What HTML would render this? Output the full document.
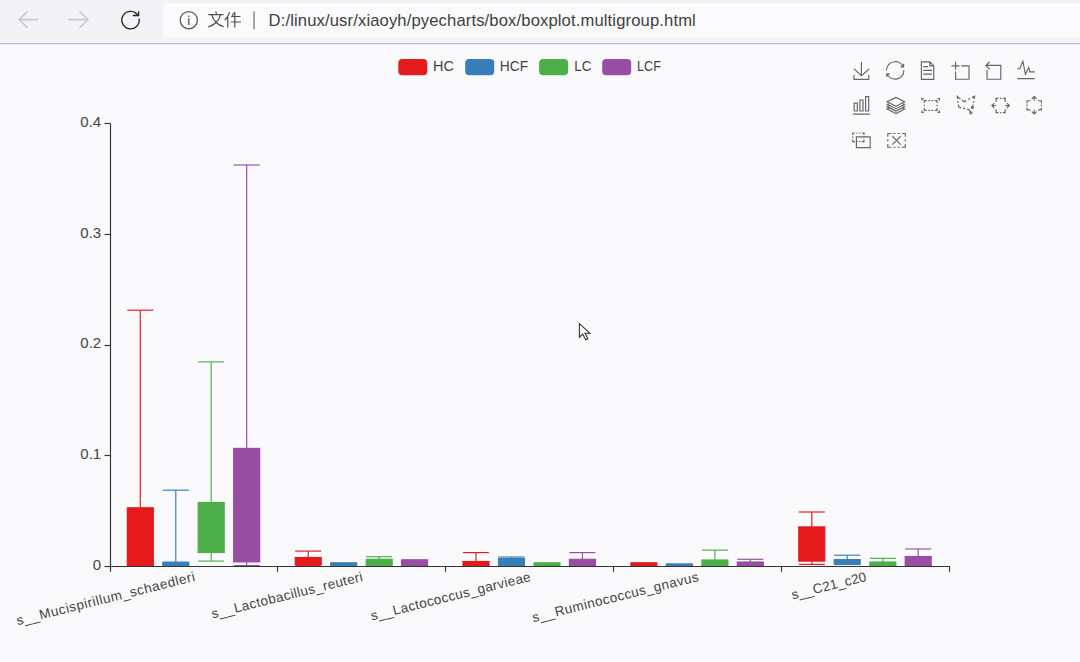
<!DOCTYPE html>
<html><head><meta charset="utf-8"><style>
html,body{margin:0;padding:0;background:#fafafd;width:1080px;height:662px;overflow:hidden}
svg{display:block;font-family:"Liberation Sans",sans-serif}
</style></head><body>
<svg width="1080" height="662" viewBox="0 0 1080 662">
<rect x="0" y="0" width="1080" height="662" fill="#fafafd"/>
<!-- browser bar -->
<rect x="0" y="0" width="1080" height="43" fill="#f3f3f6"/>
<rect x="163" y="3" width="930" height="34.4" rx="3" fill="#fbfbfe"/>
<rect x="0" y="43" width="1080" height="1.2" fill="#b4b4f2"/>
<g stroke="#c8c8dc" stroke-width="1.6" fill="none" stroke-linecap="round" stroke-linejoin="round">
<path d="M19.5,19.6H37.8 M27,11.8L19.3,19.6L27,27.4"/>
<path d="M69,19.6H88 M80,11.8L88,19.6L80,27.4"/>
</g>
<g stroke="#262626" stroke-width="1.35" fill="none">
<path d="M139.1,18.6 A8.7,8.7 0 1 1 138.1,15.8"/>
<path d="M132.8,15.5 H138.6 V11.2" stroke-linejoin="miter"/>
</g>
<circle cx="188.8" cy="20.2" r="8.6" fill="none" stroke="#5a5a5a" stroke-width="1.3"/>
<rect x="188.1" y="18.2" width="1.4" height="6.8" fill="#5a5a5a"/>
<rect x="188.1" y="15.6" width="1.4" height="1.4" fill="#5a5a5a"/>
<g stroke="#505050" stroke-width="1.2" fill="none">
<!-- 文 -->
<path d="M215.6,11.6 L216.6,13.8 M208.3,14.6 H223.6 M211.8,15 C213.3,20.5 216.8,24.6 223.8,26.8 M220.4,15 C219.2,20.5 215.2,24.6 208.2,27"/>
<!-- 件 -->
<path d="M229.6,12.2 C228.6,15.6 226.8,18.4 224.8,20.2 M227.8,17.2 V27.6 M233.6,12.8 C233.2,14.4 232.4,16 231.5,17.2 M232.4,16.5 H240.4 M230.8,22 H241 M234.8,12 V27.6"/>
</g>
<rect x="253.4" y="11.5" width="1.3" height="17.8" fill="#777"/>
<text x="268.6" y="25.8" font-size="16.6" fill="#404040" textLength="427.2" lengthAdjust="spacing">D:/linux/usr/xiaoyh/pyecharts/box/boxplot.multigroup.html</text>
<!-- legend -->
<g font-size="14.5" fill="#444">
<rect x="398.3" y="59" width="29" height="16.2" rx="4" fill="#e41a1c"/>
<text x="433" y="70.8" textLength="20.8" lengthAdjust="spacingAndGlyphs">HC</text>
<rect x="465.2" y="59" width="29" height="16.2" rx="4" fill="#377eb8"/>
<text x="499.7" y="70.8" textLength="28.4" lengthAdjust="spacingAndGlyphs">HCF</text>
<rect x="539.1" y="59" width="29" height="16.2" rx="4" fill="#4daf4a"/>
<text x="574.3" y="70.8" textLength="17.2" lengthAdjust="spacingAndGlyphs">LC</text>
<rect x="602.2" y="59" width="29" height="16.2" rx="4" fill="#984ea3"/>
<text x="637.1" y="70.8" textLength="23.8" lengthAdjust="spacingAndGlyphs">LCF</text>
</g>
<!-- toolbox -->
<g fill="none" stroke="#666">
<path d="M4.7,22.9L29.3,45.5L54.7,23.4M4.6,43.6L4.6,58L53.8,58L53.8,43.6M29.2,45.1L29.2,0" transform="translate(852.60,61.90) scale(0.3017)" stroke-width="3.845"/>
<path d="M3.8,33.4 M47,18.9h9.8V8.7 M56.3,20.1 C52.1,9,40.5,0.6,26.8,2.1C12.6,3.7,1.6,16.2,2.1,30.6 M13,41.1H3.1v10.2 M3.7,39.9c4.2,11.1,15.8,19.5,29.5,18 c14.2-1.6,25.2-14.1,24.7-28.5" transform="translate(885.85,61.05) scale(0.3117)" stroke-width="3.722"/>
<path d="M17.5,17.3H33 M17.5,17.3H33 M45.4,29.5h-28 M11.5,2v56H51V14.8L38.4,2H11.5z M38.4,2.2v12.7H51 M45.4,41.7h-28" transform="translate(917.78,61.17) scale(0.3125)" stroke-width="3.712"/>
<path d="M0,13.5h26.9 M13.5,26.9V0 M32.1,13.5H58V58H13.5 V32.1" transform="translate(951.50,61.75) scale(0.3017)" stroke-width="3.845"/>
<path d="M22,1.4L9.9,13.5l12.3,12.3 M10.3,13.1H58V58H13.5V26.9" transform="translate(982.85,61.32) scale(0.3092)" stroke-width="3.752"/>
<path d="M4.1,28.9h7.1l9.3-22l7.4,38l9.7-19.7l3,12.8h14.9M4.1,58h51.4" transform="translate(1015.90,58.95) scale(0.3405)" stroke-width="3.407"/>
<path d="M6.7,22.9h10V48h-10V22.9zM24.9,13h10v35h-10V13zM43.2,2h10v46h-10V2zM3.1,58h53.7" transform="translate(852.09,95.97) scale(0.3125)" stroke-width="3.712"/>
<path d="M8.2,38.4l-8.4,4.1l30.6,15.3L60,42.5l-8.1-4.1l-21.5,11L8.2,38.4z M51.9,30l-8.1,4.2l-13.4,6.9l-13.9-6.9L8.2,30l-8.4,4.2l8.4,4.2l22.2,11l21.5-11l8.1-4.2L51.9,30z M51.9,21.7l-8.1,4.2L35.7,30l-5.3,2.8L24.9,30l-8.4-4.1l-8.3-4.2l-8.4,4.2L8.2,30l8.3,4.2l13.9,6.9l13.4-6.9l8.1-4.2l8.1-4.1L51.9,21.7zM30.4,2.2L-0.2,17.5l8.4,4.1l8.3,4.2l8.4,4.2l5.5,2.7l5.3-2.7l8.1-4.2l8.1-4.2l8.1-4.1L30.4,2.2z" transform="translate(887.16,96.73) scale(0.2907)" stroke-width="3.990"/>
<path d="M7.3,34.7 M0.4,10V-0.2h9.8 M89.6,10V-0.2h-9.8 M0.4,60v10.2h9.8 M89.6,60v10.2h-9.8 M12.3,22.4V10.5h13.1 M33.6,10.5h7.8 M49.1,10.5h7.8 M77.5,22.4V10.5h-13 M12.3,31.1v8.2 M77.7,31.1v8.2 M12.3,47.6v11.9h13.1 M33.6,59.5h7.6 M49.1,59.5h7.7 M77.5,47.6v11.9h-13" transform="translate(921.87,98.63) scale(0.1962)" stroke-width="5.913"/>
<path d="M55.2,34.9c1.7,0,3.1,1.4,3.1,3.1s-1.4,3.1-3.1,3.1 s-3.1-1.4-3.1-3.1S53.5,34.9,55.2,34.9z M50.4,51c1.7,0,3.1,1.4,3.1,3.1c0,1.7-1.4,3.1-3.1,3.1c-1.7,0-3.1-1.4-3.1-3.1 C47.3,52.4,48.7,51,50.4,51z M55.6,37.1l1.5-7.8 M60.1,13.5l1.6-8.7l-7.8,4 M59,19l-1,5.3 M24,16.1l6.4,4.9l6.4-3.3 M48.5,11.6 l-5.9,3.1 M19.1,12.8L9.7,5.1l1.1,7.7 M13.4,29.8l1,7.3l6.6,1.6 M11.6,18.4l1,6.1 M32.8,41.9 M26.6,40.4 M27.3,40.2l6.1,1.6 M49.9,52.1l-5.6-7.6l-4.9-1.2" transform="translate(953.98,94.70) scale(0.3340)" stroke-width="3.473"/>
<path d="M15.2,30 M19.7,15.6V1.9H29 M34.8,1.9H40.4 M55.3,15.6V1.9H45.9 M19.7,44.4V58.1H29 M34.8,58.1H40.4 M55.3,44.4 V58.1H45.9 M12.5,20.3l-9.4,9.6l9.6,9.8 M3.1,29.9h16.5 M62.5,20.3l9.4,9.6L62.3,39.7 M71.9,29.9H55.4" transform="translate(991.06,97.92) scale(0.2544)" stroke-width="4.560"/>
<path d="M38.8,7.7 M52.7,12h13.2v9 M65.9,26.6V32 M52.7,46.3h13.2v-9 M24.9,12H11.8v9 M11.8,26.6V32 M24.9,46.3H11.8v-9 M48.2,5.1l-9.3-9l-9.4,9.2 M38.9-3.9V12 M48.2,53.3l-9.3,9l-9.4-9.2 M38.9,62.3V46.4" transform="translate(1023.93,97.58) scale(0.2644)" stroke-width="4.388"/>
<path d="M4,10.5V1h10.3 M20.7,1h6.1 M33,1h6.1 M55.4,10.5V1H45.2 M4,17.3v6.6 M55.6,17.3v6.6 M4,30.5V40h10.3 M20.7,40 h6.1 M33,40h6.1 M55.4,30.5V40H45.2 M21,18.9h62.9v48.6H21V18.9z" transform="translate(851.82,132.80) scale(0.2190)" stroke-width="5.296"/>
<path d="M22,14.7l30.9,31 M52.9,14.7L22,45.7 M4.7,16.8V4.2h13.1 M26,4.2h7.8 M41.6,4.2h7.8 M70.3,16.8V4.2H57.2 M4.7,25.9v8.6 M70.3,25.9v8.6 M4.7,43.2v12.6h13.1 M26,55.8h7.8 M41.6,55.8h7.8 M70.3,43.2v12.6H57.2" transform="translate(886.55,132.35) scale(0.2668)" stroke-width="4.348"/>
</g>
<!-- boxes -->
<g stroke="#e41a1c" stroke-width="1.16"><line x1="127.3" y1="310.2" x2="153.3" y2="310.2"/><line x1="140.3" y1="310.2" x2="140.3" y2="507.8"/><line x1="140.3" y1="566.0" x2="140.3" y2="566.0"/><line x1="127.3" y1="566.0" x2="153.3" y2="566.0"/><rect x="127.3" y="507.8" width="26" height="58.2" fill="#e41a1c"/></g>
<g stroke="#377eb8" stroke-width="1.16"><line x1="162.8" y1="490.2" x2="188.8" y2="490.2"/><line x1="175.8" y1="490.2" x2="175.8" y2="562.1"/><line x1="175.8" y1="566.0" x2="175.8" y2="566.0"/><line x1="162.8" y1="566.0" x2="188.8" y2="566.0"/><rect x="162.8" y="562.1" width="26" height="3.9" fill="#377eb8"/></g>
<g stroke="#4daf4a" stroke-width="1.16"><line x1="198.2" y1="361.9" x2="224.2" y2="361.9"/><line x1="211.2" y1="361.9" x2="211.2" y2="502.5"/><line x1="211.2" y1="552.5" x2="211.2" y2="561.1"/><line x1="198.2" y1="561.1" x2="224.2" y2="561.1"/><rect x="198.2" y="502.5" width="26" height="50.0" fill="#4daf4a"/></g>
<g stroke="#984ea3" stroke-width="1.16"><line x1="233.7" y1="165.0" x2="259.7" y2="165.0"/><line x1="246.7" y1="165.0" x2="246.7" y2="448.4"/><line x1="246.7" y1="561.9" x2="246.7" y2="565.6"/><line x1="233.7" y1="565.6" x2="259.7" y2="565.6"/><rect x="233.7" y="448.4" width="26" height="113.5" fill="#984ea3"/></g>
<g stroke="#e41a1c" stroke-width="1.16"><line x1="295.2" y1="551.1" x2="321.2" y2="551.1"/><line x1="308.2" y1="551.1" x2="308.2" y2="557.5"/><line x1="308.2" y1="564.4" x2="308.2" y2="565.5"/><line x1="295.2" y1="565.5" x2="321.2" y2="565.5"/><rect x="295.2" y="557.5" width="26" height="6.9" fill="#e41a1c"/></g>
<g stroke="#377eb8" stroke-width="1.16"><line x1="330.7" y1="563.0" x2="356.7" y2="563.0"/><line x1="343.7" y1="563.0" x2="343.7" y2="563.0"/><line x1="343.7" y1="566.0" x2="343.7" y2="566.0"/><line x1="330.7" y1="566.0" x2="356.7" y2="566.0"/><rect x="330.7" y="563.0" width="26" height="3.0" fill="#377eb8"/></g>
<g stroke="#4daf4a" stroke-width="1.16"><line x1="366.2" y1="556.7" x2="392.2" y2="556.7"/><line x1="379.2" y1="556.7" x2="379.2" y2="559.3"/><line x1="379.2" y1="565.5" x2="379.2" y2="566.0"/><line x1="366.2" y1="566.0" x2="392.2" y2="566.0"/><rect x="366.2" y="559.3" width="26" height="6.2" fill="#4daf4a"/></g>
<g stroke="#984ea3" stroke-width="1.16"><line x1="401.6" y1="560.0" x2="427.6" y2="560.0"/><line x1="414.6" y1="560.0" x2="414.6" y2="560.0"/><line x1="414.6" y1="566.0" x2="414.6" y2="566.0"/><line x1="401.6" y1="566.0" x2="427.6" y2="566.0"/><rect x="401.6" y="560.0" width="26" height="6.0" fill="#984ea3"/></g>
<g stroke="#e41a1c" stroke-width="1.16"><line x1="463.0" y1="552.6" x2="489.0" y2="552.6"/><line x1="476.0" y1="552.6" x2="476.0" y2="561.5"/><line x1="476.0" y1="566.0" x2="476.0" y2="566.0"/><line x1="463.0" y1="566.0" x2="489.0" y2="566.0"/><rect x="463.0" y="561.5" width="26" height="4.5" fill="#e41a1c"/></g>
<g stroke="#377eb8" stroke-width="1.16"><line x1="498.5" y1="557.0" x2="524.5" y2="557.0"/><line x1="511.5" y1="557.0" x2="511.5" y2="558.5"/><line x1="511.5" y1="566.0" x2="511.5" y2="566.0"/><line x1="498.5" y1="566.0" x2="524.5" y2="566.0"/><rect x="498.5" y="558.5" width="26" height="7.5" fill="#377eb8"/></g>
<g stroke="#4daf4a" stroke-width="1.16"><line x1="534.0" y1="563.0" x2="560.0" y2="563.0"/><line x1="547.0" y1="563.0" x2="547.0" y2="563.0"/><line x1="547.0" y1="566.0" x2="547.0" y2="566.0"/><line x1="534.0" y1="566.0" x2="560.0" y2="566.0"/><rect x="534.0" y="563.0" width="26" height="3.0" fill="#4daf4a"/></g>
<g stroke="#984ea3" stroke-width="1.16"><line x1="569.4" y1="552.6" x2="595.4" y2="552.6"/><line x1="582.4" y1="552.6" x2="582.4" y2="559.3"/><line x1="582.4" y1="566.0" x2="582.4" y2="566.0"/><line x1="569.4" y1="566.0" x2="595.4" y2="566.0"/><rect x="569.4" y="559.3" width="26" height="6.7" fill="#984ea3"/></g>
<g stroke="#e41a1c" stroke-width="1.16"><line x1="630.9" y1="563.0" x2="656.9" y2="563.0"/><line x1="643.9" y1="563.0" x2="643.9" y2="563.0"/><line x1="643.9" y1="566.0" x2="643.9" y2="566.0"/><line x1="630.9" y1="566.0" x2="656.9" y2="566.0"/><rect x="630.9" y="563.0" width="26" height="3.0" fill="#e41a1c"/></g>
<g stroke="#377eb8" stroke-width="1.16"><line x1="666.4" y1="564.1" x2="692.4" y2="564.1"/><line x1="679.4" y1="564.1" x2="679.4" y2="564.1"/><line x1="679.4" y1="566.0" x2="679.4" y2="566.0"/><line x1="666.4" y1="566.0" x2="692.4" y2="566.0"/><rect x="666.4" y="564.1" width="26" height="1.9" fill="#377eb8"/></g>
<g stroke="#4daf4a" stroke-width="1.16"><line x1="701.9" y1="550.1" x2="727.9" y2="550.1"/><line x1="714.9" y1="550.1" x2="714.9" y2="560.0"/><line x1="714.9" y1="566.0" x2="714.9" y2="566.0"/><line x1="701.9" y1="566.0" x2="727.9" y2="566.0"/><rect x="701.9" y="560.0" width="26" height="6.0" fill="#4daf4a"/></g>
<g stroke="#984ea3" stroke-width="1.16"><line x1="737.3" y1="559.3" x2="763.3" y2="559.3"/><line x1="750.3" y1="559.3" x2="750.3" y2="562.0"/><line x1="750.3" y1="566.0" x2="750.3" y2="566.0"/><line x1="737.3" y1="566.0" x2="763.3" y2="566.0"/><rect x="737.3" y="562.0" width="26" height="4.0" fill="#984ea3"/></g>
<g stroke="#e41a1c" stroke-width="1.16"><line x1="798.8" y1="512.0" x2="824.8" y2="512.0"/><line x1="811.8" y1="512.0" x2="811.8" y2="526.9"/><line x1="811.8" y1="561.1" x2="811.8" y2="564.4"/><line x1="798.8" y1="564.4" x2="824.8" y2="564.4"/><rect x="798.8" y="526.9" width="26" height="34.2" fill="#e41a1c"/></g>
<g stroke="#377eb8" stroke-width="1.16"><line x1="834.2" y1="555.2" x2="860.2" y2="555.2"/><line x1="847.2" y1="555.2" x2="847.2" y2="559.6"/><line x1="847.2" y1="563.9" x2="847.2" y2="564.5"/><line x1="834.2" y1="564.5" x2="860.2" y2="564.5"/><rect x="834.2" y="559.6" width="26" height="4.3" fill="#377eb8"/></g>
<g stroke="#4daf4a" stroke-width="1.16"><line x1="869.8" y1="558.3" x2="895.8" y2="558.3"/><line x1="882.8" y1="558.3" x2="882.8" y2="562.0"/><line x1="882.8" y1="566.0" x2="882.8" y2="566.0"/><line x1="869.8" y1="566.0" x2="895.8" y2="566.0"/><rect x="869.8" y="562.0" width="26" height="4.0" fill="#4daf4a"/></g>
<g stroke="#984ea3" stroke-width="1.16"><line x1="905.2" y1="549.0" x2="931.2" y2="549.0"/><line x1="918.2" y1="549.0" x2="918.2" y2="556.5"/><line x1="918.2" y1="566.0" x2="918.2" y2="566.0"/><line x1="905.2" y1="566.0" x2="931.2" y2="566.0"/><rect x="905.2" y="556.5" width="26" height="9.5" fill="#984ea3"/></g>
<!-- axes -->
<g stroke="#333" stroke-width="1.16" font-size="14" fill="none">
<line x1="110.5" y1="123.5" x2="110.5" y2="566.5"/>
<line x1="110" y1="566.5" x2="949.8" y2="566.5"/>
<line x1="104.5" y1="566.5" x2="110.5" y2="566.5"/>
<text x="101.2" y="569.8" text-anchor="end" stroke="none" fill="#444" font-size="15">0</text>
<line x1="104.5" y1="455.5" x2="110.5" y2="455.5"/>
<text x="101.2" y="459.1" text-anchor="end" stroke="none" fill="#444" font-size="15">0.1</text>
<line x1="104.5" y1="345.5" x2="110.5" y2="345.5"/>
<text x="101.2" y="348.3" text-anchor="end" stroke="none" fill="#444" font-size="15">0.2</text>
<line x1="104.5" y1="234.5" x2="110.5" y2="234.5"/>
<text x="101.2" y="237.6" text-anchor="end" stroke="none" fill="#444" font-size="15">0.3</text>
<line x1="104.5" y1="123.5" x2="110.5" y2="123.5"/>
<text x="101.2" y="126.9" text-anchor="end" stroke="none" fill="#444" font-size="15">0.4</text>
<line x1="110.5" y1="566.5" x2="110.5" y2="571.8"/>
<line x1="277.5" y1="566.5" x2="277.5" y2="571.8"/>
<line x1="445.5" y1="566.5" x2="445.5" y2="571.8"/>
<line x1="613.5" y1="566.5" x2="613.5" y2="571.8"/>
<line x1="781.5" y1="566.5" x2="781.5" y2="571.8"/>
<line x1="949.5" y1="566.5" x2="949.5" y2="571.8"/>
</g>
<g font-size="13.5" fill="#444">
<text transform="translate(194.4,576) rotate(-14)" text-anchor="end" y="5" textLength="183.3" lengthAdjust="spacing">s__Mucispirillum_schaedleri</text>
<text transform="translate(362.3,576) rotate(-14)" text-anchor="end" y="5" textLength="155.3" lengthAdjust="spacing">s__Lactobacillus_reuteri</text>
<text transform="translate(530.1,576) rotate(-14)" text-anchor="end" y="5" textLength="164.3" lengthAdjust="spacing">s__Lactococcus_garvieae</text>
<text transform="translate(698.0,576) rotate(-14)" text-anchor="end" y="5" textLength="170.8" lengthAdjust="spacing">s__Ruminococcus_gnavus</text>
<text transform="translate(865.9,576) rotate(-14)" text-anchor="end" y="5" textLength="76.7" lengthAdjust="spacing">s__C21_c20</text>
</g>
<!-- cursor -->
<path d="M579.4,323.6 L579.4,337.2 L582.7,334.1 L585.7,339.7 L587.8,338.7 L585,333.2 L589.9,333.2 Z" fill="#fff" stroke="#2a2a2a" stroke-width="1.05" stroke-linejoin="miter"/>
</svg>
</body></html>
